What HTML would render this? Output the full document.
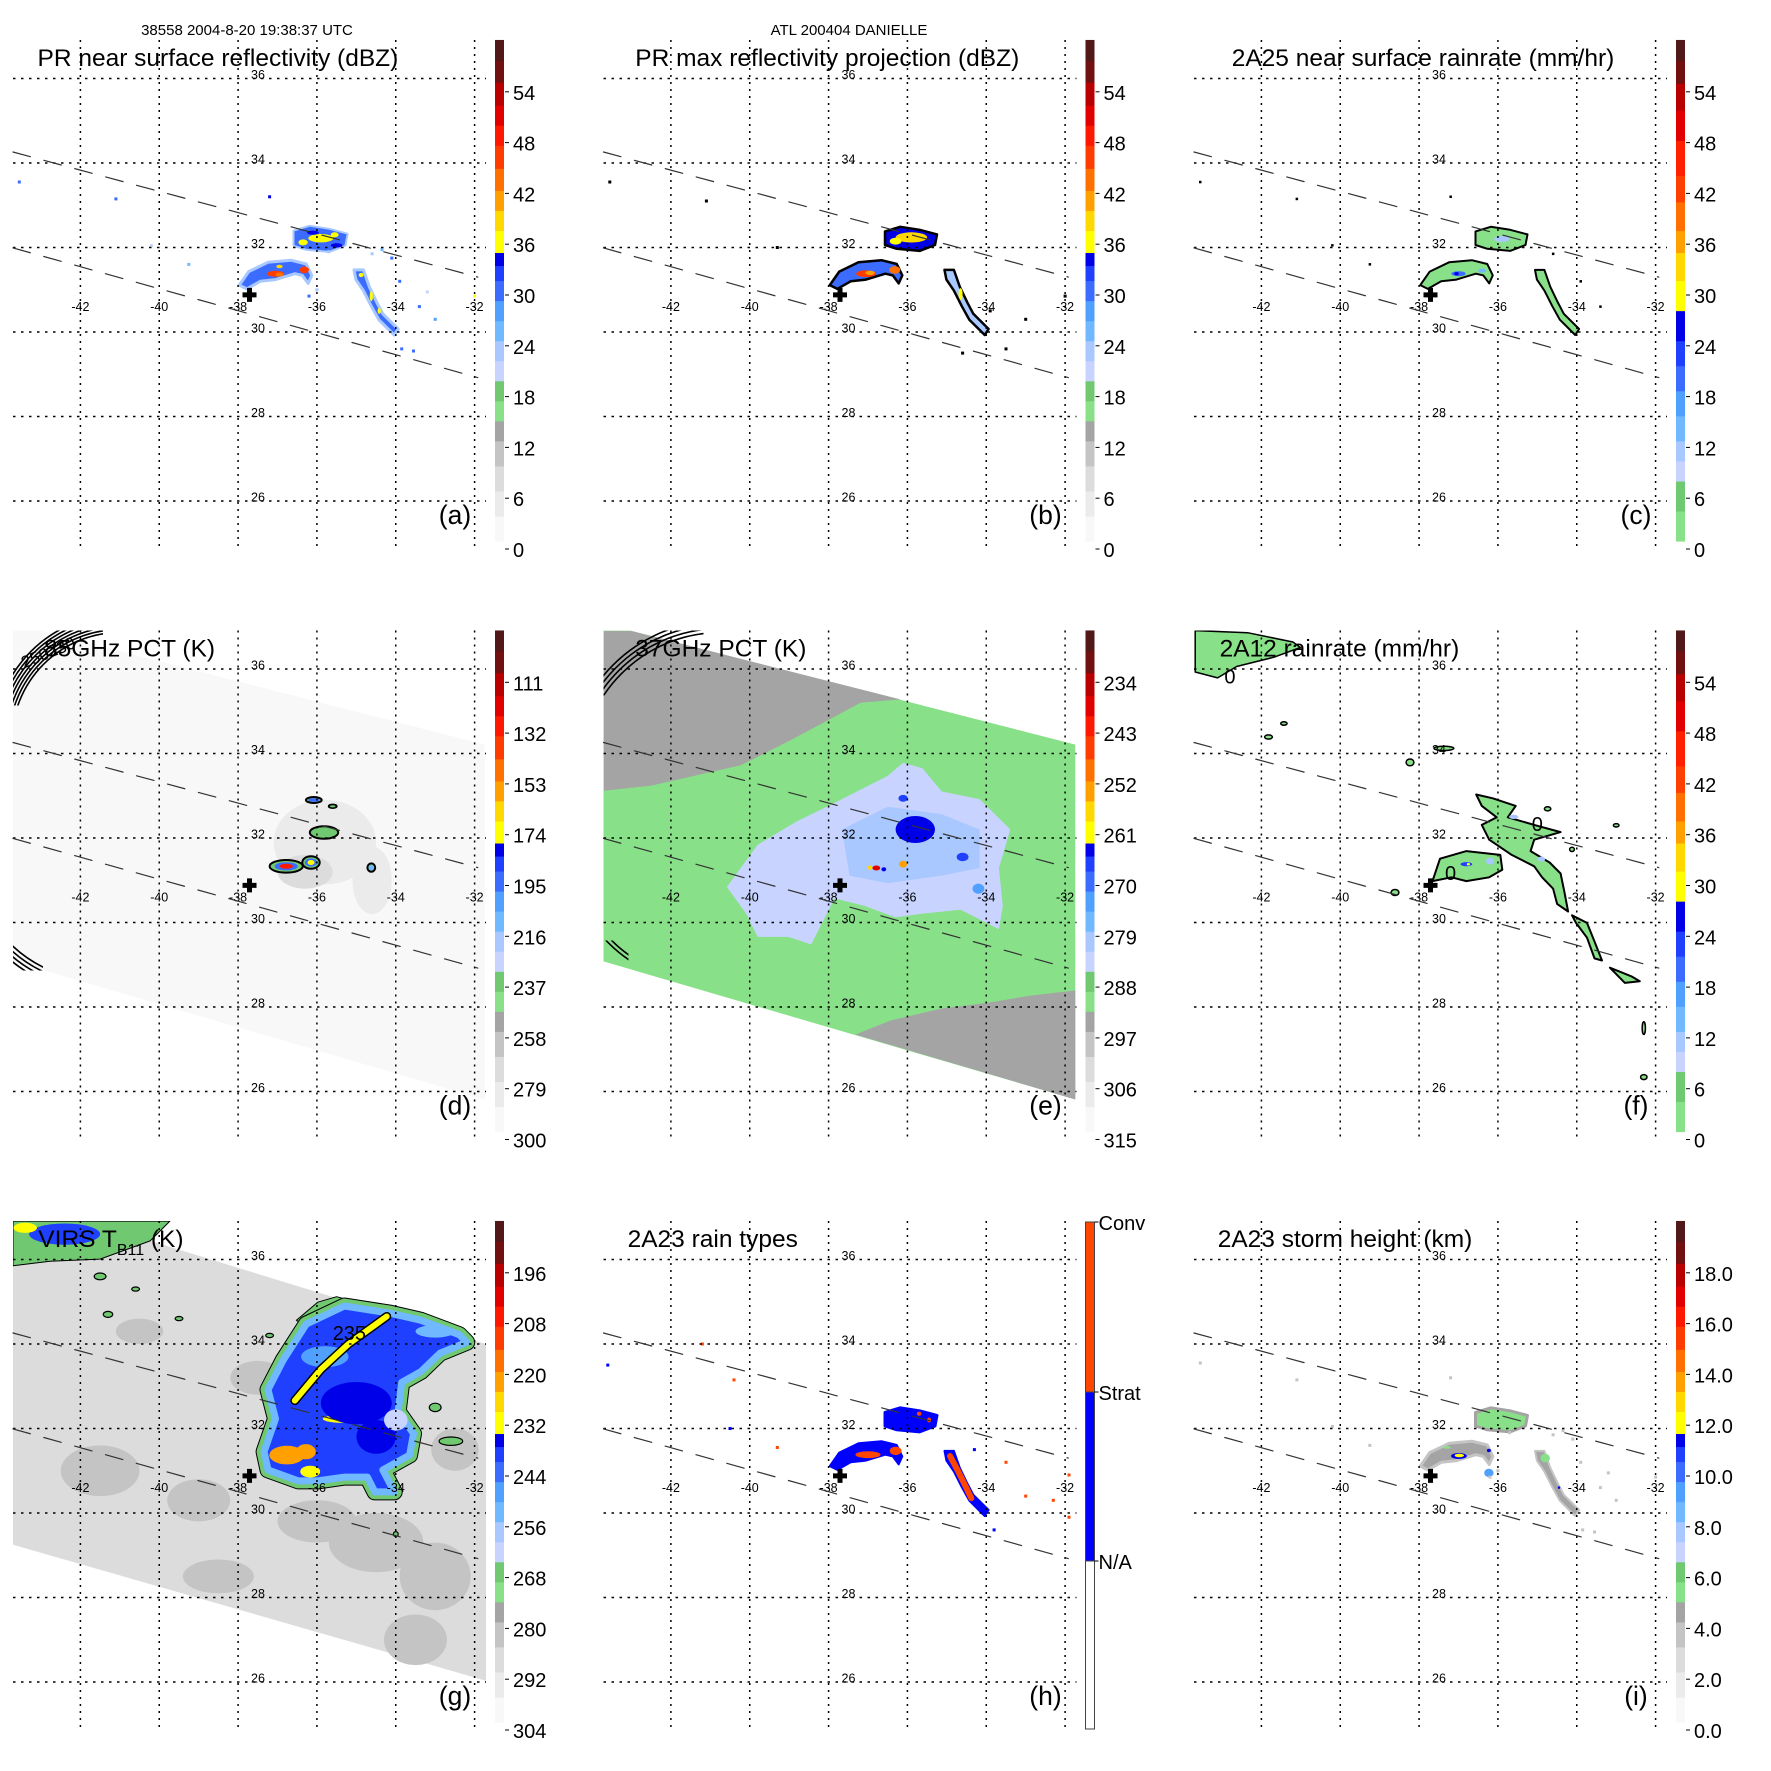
<!DOCTYPE html>
<html><head><meta charset="utf-8">
<style>
html,body{margin:0;padding:0;background:#fff}
svg{display:block}
text{font-family:"Liberation Sans",Arial,sans-serif;fill:#000}
</style></head>
<body>
<svg id="fig" width="1771" height="1771" viewBox="0 0 1771 1771" xmlns="http://www.w3.org/2000/svg">
<rect width="1771" height="1771" fill="#fff"/>
<text x="247" y="35" font-size="15" text-anchor="middle">38558 2004-8-20 19:38:37 UTC</text>
<text x="849" y="35" font-size="15" text-anchor="middle">ATL 200404 DANIELLE</text>
</svg>
<script>
// ---------- data ----------
const lonTicks=[-42,-40,-38,-36,-34,-32];
const latTicks=[36,34,32,30,28,26];
const centerMark=[-37.71,30.88];
const swathUpper=[[-43.71,34.26],[-31.92,31.30]];
const swathLower=[[-43.71,31.99],[-31.92,28.92]];

const labelsDbz=['0','6','12','18','24','30','36','42','48','54'];
const labelsPct85=['300','279','258','237','216','195','174','153','132','111'];
const labelsPct37=['315','306','297','288','279','270','261','252','243','234'];
const labelsVirs=['304','292','280','268','256','244','232','220','208','196'];
const labelsHeight=['0.0','2.0','4.0','6.0','8.0','10.0','12.0','14.0','16.0','18.0'];
const labelsRainType=['N/A','Strat','Conv'];

// PR footprint (lon,lat)
const stormNorth=[[-36.57,32.38],[-36.18,32.49],[-35.69,32.42],[-35.25,32.31],[-35.30,32.06],[-35.69,31.92],[-36.27,31.97],[-36.57,32.06]];
const stormWest=[[-37.97,31.11],[-37.73,31.43],[-37.24,31.65],[-36.66,31.70],[-36.27,31.61],[-36.13,31.34],[-36.22,31.15],[-36.37,31.34],[-36.56,31.38],[-37.05,31.24],[-37.44,31.20],[-37.78,31.02]];
const stormEast=[[-35.06,31.47],[-34.82,31.47],[-34.67,31.07],[-34.48,30.70],[-34.33,30.43],[-33.94,30.07],[-34.04,29.93],[-34.43,30.29],[-34.62,30.61],[-34.82,30.98],[-35.01,31.24]];

// (a) reflectivity cells [lon,lat,dBZ,rlon,rlat]
const aCells=[[-35.9,32.22,37,0.32,0.1],[-36.35,32.12,37,0.12,0.07],[-35.55,32.3,37,0.1,0.06],[-37.05,31.38,47,0.22,0.07],[-36.95,31.36,42,0.1,0.05],[-36.32,31.47,45,0.12,0.08],[-36.95,31.55,38,0.08,0.04],[-34.62,30.85,37,0.04,0.12],[-34.42,30.5,37,0.04,0.07],[-34.88,31.35,36,0.06,0.05],[-36.1,32.35,33,0.15,0.05],[-35.5,32.05,33,0.15,0.05]];
const aSpecks=[[-43.55,33.55,30],[-40.2,32.05,20],[-41.1,33.15,30],[-39.25,31.6,26],[-37.2,33.2,33],[-34.6,31.85,22],[-33.9,31.2,30],[-33.4,30.6,30],[-33.0,30.3,27],[-33.85,29.6,30],[-33.55,29.55,30],[-32.0,30.85,37],[-36.2,30.85,30],[-36.0,31.0,22],[-34.35,31.95,26],[-34.1,31.75,30],[-33.2,30.95,20],[-35.7,31.9,22]];
// (b) max reflectivity cells
const bCells=[[-35.9,32.24,38,0.4,0.12],[-36.3,32.15,37,0.15,0.08],[-37.05,31.38,46,0.25,0.08],[-36.95,31.4,41,0.12,0.05],[-36.32,31.47,44,0.14,0.09],[-34.65,30.9,36,0.05,0.14]];
const bSpecks=[[-43.55,33.55],[-39.3,32.0],[-41.1,33.1],[-33.9,30.5],[-33.5,29.6],[-32.0,30.85],[-33.0,30.3],[-34.6,29.5]];
// (c) rain rate cells
const cCells=[[-37.0,31.38,20,0.18,0.06],[-37.05,31.38,26,0.06,0.04],[-36.4,31.45,12,0.1,0.05],[-35.9,32.2,10,0.2,0.07]];
// (d) 85GHz blobs [lon,lat,rlon,rlat,outer,inner,core]
const dBlobs=[[-36.78,31.33,0.42,0.15,240,195,130],[-36.15,31.42,0.22,0.15,240,195,170],[-35.82,32.13,0.36,0.15,240,240,240],[-36.08,32.9,0.2,0.07,240,195,195],[-35.6,32.75,0.1,0.04,240,240,240],[-34.62,31.3,0.1,0.1,240,215,215]];
const dShade=[[-35.8,31.9,280,1.3,1.0],[-34.6,31.0,282,0.5,0.8],[-36.3,31.2,278,0.7,0.4]];
// (e) 37GHz
const eGrayNW=[[-43.7,36.9],[-43.0,36.9],[-36.18,35.28],[-37.19,35.2],[-38.97,34.31],[-40.23,33.72],[-42.5,33.24],[-43.7,33.12]];
const eGraySE=[[-37.32,27.35],[-36.43,27.68],[-35.16,27.96],[-33.89,28.11],[-32.88,28.27],[-31.74,28.39],[-31.74,25.81]];
const eLight=[[-40.58,30.84],[-39.80,31.84],[-38.83,32.38],[-37.85,32.83],[-36.50,33.47],[-36.11,33.78],[-35.62,33.65],[-35.13,33.10],[-34.17,32.92],[-33.39,32.20],[-33.68,31.29],[-33.58,30.39],[-33.68,29.84],[-34.65,30.30],[-35.62,30.21],[-36.30,30.12],[-37.08,30.39],[-37.85,30.57],[-38.44,29.48],[-39.02,29.66],[-39.80,29.66],[-40.09,30.21]];
const eMid=[[-37.66,32.20],[-36.50,32.74],[-35.13,32.56],[-34.17,32.20],[-34.17,31.29],[-35.13,31.11],[-36.50,30.93],[-37.47,31.11]];
const eCells=[[-35.8,32.2,265,0.5,0.32],[-36.11,32.94,266,0.12,0.08],[-36.79,31.29,240,0.1,0.06],[-36.95,31.3,258,0.06,0.05],[-36.6,31.26,265,0.06,0.05],[-36.11,31.38,253,0.1,0.08],[-34.6,31.55,268,0.15,0.1],[-34.2,30.8,272,0.15,0.12]];
// (f) 2A12 polygons
const fNE=[[-36.55,33.03],[-36.13,32.94],[-35.55,32.76],[-35.75,32.49],[-35.08,32.31],[-34.41,32.14],[-35.08,31.96],[-35.17,31.69],[-34.69,31.42],[-34.41,31.16],[-34.31,30.71],[-34.22,30.26],[-34.50,30.44],[-34.60,30.80],[-34.88,31.07],[-35.08,31.33],[-35.65,31.60],[-36.22,31.96],[-36.41,32.31],[-36.03,32.49],[-36.41,32.76]];
const fW=[[-37.66,30.98],[-37.47,31.51],[-36.80,31.69],[-35.94,31.60],[-35.89,31.25],[-36.22,31.07],[-36.80,30.98],[-37.18,31.07]];
const fSE=[[-34.12,30.17],[-33.74,29.99],[-33.55,29.55],[-33.36,29.10],[-33.55,29.15],[-33.74,29.64],[-34.02,29.99]];
const fS2=[[-33.16,28.93],[-32.60,28.72],[-32.40,28.61],[-32.78,28.57]];
const fNW=[[-43.68,36.91],[-42.35,36.86],[-41.20,36.64],[-41.01,36.51],[-41.68,36.28],[-42.63,36.06],[-43.11,35.79],[-43.68,35.93]];
const fSmall=[[-41.82,34.39,0.1,0.05],[-41.43,34.71,0.08,0.04],[-37.37,34.12,0.25,0.05],[-38.23,33.79,0.1,0.08],[-38.61,30.71,0.1,0.07],[-34.74,32.69,0.08,0.05],[-34.12,31.73,0.06,0.05],[-32.30,27.50,0.04,0.15],[-32.30,26.34,0.08,0.06],[-33.0,32.3,0.07,0.04]];
const fCells=[[-36.8,31.38,22,0.15,0.05],[-36.75,31.38,28.5,0.04,0.03],[-36.2,31.45,10,0.1,0.08],[-35.6,32.5,10,0.12,0.05],[-34.9,31.5,10,0.1,0.06]];
// (g) VIRS
const gSwath=[[-43.71,36.91],[-41.86,36.91],[-31.71,34.0],[-31.71,26.03],[-43.71,29.25]];
const gPatches=[[-41.5,31.0,284,1.0,0.6],[-39.0,30.3,285,0.8,0.5],[-34.5,29.3,283,1.2,0.7],[-33.0,28.5,284,0.9,0.8],[-36.0,29.8,286,1.0,0.5],[-40.5,34.3,286,0.6,0.3],[-37.5,33.2,285,0.7,0.4],[-33.5,27.0,285,0.8,0.6],[-32.5,31.5,284,0.6,0.5],[-38.5,28.5,286,0.9,0.4]];
const gStorm=[[-37.34,31.45],[-37.05,32.23],[-37.24,32.92],[-36.86,33.61],[-36.27,34.47],[-35.30,34.90],[-34.14,34.73],[-33.36,34.56],[-32.39,34.22],[-32.20,34.04],[-32.88,33.78],[-33.36,33.35],[-33.85,33.09],[-33.94,32.40],[-33.55,31.88],[-33.65,31.37],[-34.33,31.02],[-34.04,30.50],[-34.53,30.50],[-34.72,30.85],[-35.30,30.85],[-35.98,30.76],[-36.47,30.76],[-37.24,31.02]];
const gGreenTop=[[-36.52,34.56],[-35.98,34.99],[-35.50,35.12],[-34.33,34.82],[-35.30,34.56],[-36.08,34.30]];
const gTopLeft=[[-43.71,36.91],[-39.73,36.91],[-40.23,36.44],[-41.50,36.01],[-42.77,35.96],[-43.71,35.85]];
const gCells=[[-36.76,31.37,222,0.45,0.22],[-36.28,31.45,224,0.25,0.18],[-36.17,30.98,230,0.25,0.14],[-35.30,32.23,230,0.55,0.1],[-35.0,32.6,236,0.9,0.5],[-34.5,31.8,236,0.5,0.4],[-35.8,33.7,250,0.6,0.25],[-33.0,34.3,252,0.5,0.15],[-34.0,32.2,262,0.3,0.25]];
const gStreak=[[-36.56,32.66],[-35.9,33.4],[-35.2,34.0],[-34.23,34.65]];
const gSmall=[[-41.5,35.6,0.15,0.08],[-40.6,35.3,0.1,0.05],[-39.5,34.6,0.1,0.05],[-41.3,34.7,0.12,0.07],[-37.2,34.2,0.1,0.05],[-33.0,32.5,0.15,0.1],[-32.6,31.7,0.3,0.1],[-34.0,29.5,0.06,0.06]];
// (h) rain type cores
const hCores=[[-37.0,31.38,0.32,0.08],[-36.3,31.47,0.15,0.1],[-35.7,32.35,0.06,0.05],[-35.45,32.2,0.05,0.06]];
const hEastCore=[[-34.92,31.35],[-34.72,31.0],[-34.52,30.62],[-34.38,30.35]];
const hSpecks=[[-39.3,31.55,1],[-40.4,33.15,1],[-41.2,34.0,1],[-43.6,33.5,0],[-40.5,32.0,0],[-33.5,31.2,1],[-33.0,30.4,1],[-32.3,30.3,1],[-31.9,30.9,1],[-31.9,29.9,1],[-34.3,31.5,0],[-33.8,29.6,0]];
// (i) storm height
const iCells=[[-36.99,31.35,11.2,0.2,0.07],[-36.98,31.36,12.3,0.12,0.04],[-36.23,30.95,9,0.12,0.1],[-36.23,31.48,11,0.05,0.04],[-34.45,30.6,11,0.03,0.03],[-34.8,31.3,5.5,0.12,0.1],[-37.3,31.55,5.5,0.1,0.03]];

// ---------- palettes (styling: [from,to,color] as bar fractions) ----------
const palMain=[[0,.05,'#f8f8f8'],[.05,.1,'#ebebeb'],[.1,.15,'#dcdcdc'],[.15,.2,'#c4c4c4'],[.2,.24,'#a4a4a4'],[.24,.28,'#88e088'],[.28,.32,'#70c870'],[.32,.36,'#c8d4ff'],[.36,.4,'#a8c8ff'],[.4,.44,'#70b8ff'],[.44,.48,'#50a0ff'],[.48,.52,'#3c6cff'],[.52,.55,'#2040ff'],[.55,.576,'#0000e8'],[.576,.62,'#ffff00'],[.62,.66,'#ffd800'],[.66,.7,'#ffa000'],[.7,.744,'#ff7000'],[.744,.79,'#ff3c00'],[.79,.83,'#ff1800'],[.83,.87,'#e00000'],[.87,.916,'#b80000'],[.916,.96,'#701010'],[.96,1.0001,'#501818']];
const palRain=[[0,.06,'#88e088'],[.06,.12,'#70c870'],[.12,.16,'#c8d4ff'],[.16,.2,'#a8c8ff'],[.2,.25,'#70b8ff'],[.25,.3,'#50a0ff'],[.3,.35,'#3c6cff'],[.35,.4,'#2040ff'],[.4,.46,'#0000e8'],[.46,.52,'#ffff00'],[.52,.576,'#ffd800'],[.576,.62,'#ffa000'],[.62,.677,'#ff7000'],[.677,.73,'#ff4000'],[.73,.8,'#ff2000'],[.8,.86,'#e00000'],[.86,.914,'#b80000'],[.914,.96,'#701010'],[.96,1.0001,'#501818']];

const NS='http://www.w3.org/2000/svg';
const svg=document.getElementById('fig');
function mk(tag,attrs,parent){const e=document.createElementNS(NS,tag);for(const k in attrs)e.setAttribute(k,attrs[k]);parent.appendChild(e);return e;}
function X(lon){return 80.4+(lon+42)*39.42;}
function Y(lat){return 78.5+(36-lat)*42.25;}
function P(arr){return arr.map(p=>X(p[0]).toFixed(1)+','+Y(p[1]).toFixed(1)).join(' ');}
function col(p,v){let f=(v-p.lo)/(p.hi-p.lo);f=Math.max(0,Math.min(0.9999,f));for(const s of p.pal){if(f>=s[0]&&f<s[1])return s[2];}return p.pal[p.pal.length-1][2];}

function poly(par,arr,fill,stroke,sw,name){
  const e=mk('polygon',{points:P(arr),fill:fill,stroke:stroke||'none','stroke-width':sw||0,'stroke-linejoin':'round'},par);
  
  
  return e;
}
function ell(par,lon,lat,rl,rt,fill,name,stroke,sw){
  const e=mk('ellipse',{cx:X(lon).toFixed(1),cy:Y(lat).toFixed(1),rx:(rl*39.42).toFixed(1),ry:(rt*42.25).toFixed(1),fill:fill,stroke:stroke||'none','stroke-width':sw||0},par);
  
  
  return e;
}
function line(par,arr,stroke,sw,name,dash){
  const e=mk('polyline',{points:P(arr),fill:'none',stroke:stroke,'stroke-width':sw,'stroke-linecap':'round','stroke-linejoin':'round'},par);
  if(dash)e.setAttribute('stroke-dasharray',dash);
  
  
  return e;
}
function speck(par,lon,lat,fill,name,s){
  s=s||3;
  const e=mk('rect',{x:(X(lon)-s/2).toFixed(1),y:(Y(lat)-s/2).toFixed(1),width:s,height:s,fill:fill},par);
  
  
}
function arcs(par,cx,cy,r0,r1,step,cx0,cy0,cw,ch,id,name){
  const cp=mk('clipPath',{id:id},par);
  mk('rect',{x:cx0,y:cy0,width:cw,height:ch},cp);
  const g=mk('g',{'clip-path':'url(#'+id+')'},par);
  
  
  for(let r=r0;r<=r1;r+=step){mk('circle',{cx:cx,cy:cy,r:r,fill:'none',stroke:'#000','stroke-width':1.6},g);}
}

const panels=[
 {id:'a',c:0,r:0,title:'PR near surface reflectivity (dBZ)',tx:37.5,pal:palMain,lo:0,hi:60,labels:labelsDbz},
 {id:'b',c:1,r:0,title:'PR max reflectivity projection (dBZ)',tx:44.8,pal:palMain,lo:0,hi:60,labels:labelsDbz},
 {id:'c',c:2,r:0,title:'2A25 near surface rainrate (mm/hr)',tx:50.7,pal:palRain,lo:0,hi:60,labels:labelsDbz},
 {id:'d',c:0,r:1,title:'85GHz PCT (K)',tx:44,pal:palMain,lo:300,hi:90,labels:labelsPct85},
 {id:'e',c:1,r:1,title:'37GHz PCT (K)',tx:44.8,pal:palMain,lo:315,hi:225,labels:labelsPct37},
 {id:'f',c:2,r:1,title:'2A12 rainrate (mm/hr)',tx:38.6,pal:palRain,lo:0,hi:60,labels:labelsDbz},
 {id:'g',c:0,r:2,title:'VIRS T',tx:38.3,pal:palMain,lo:304,hi:184,labels:labelsVirs},
 {id:'h',c:1,r:2,title:'2A23 rain types',tx:37.1,pal:null,labels:labelsRainType},
 {id:'i',c:2,r:2,title:'2A23 storm height (km)',tx:36.7,pal:palMain,lo:0,hi:20,labels:labelsHeight}
];

const tmiSwath=[[-43.71,36.91],[-43.03,36.91],[-31.74,34.21],[-31.74,25.81],[-43.71,29.08]];

function content(p,pc){
  const id=p.id;
  if(id==='a'){
    poly(pc,stormNorth,col(p,22),col(p,22),4,'north-rainband');
    poly(pc,stormNorth,col(p,30),'none',0,'north-rainband-core');
    poly(pc,stormWest,col(p,30),col(p,22),3,'west-rainband');
    poly(pc,stormEast,col(p,31),col(p,22),3,'east-rainband');
    aSpecks.forEach(s=>speck(pc,s[0],s[1],col(p,s[2]),'reflectivity-speck'));
    aCells.forEach(c=>ell(pc,c[0],c[1],c[3],c[4],col(p,c[2]),'reflectivity-cell'));
  }
  if(id==='b'){
    poly(pc,stormNorth,col(p,33),'#000',2.5,'north-rainband');
    poly(pc,stormWest,col(p,30),'#000',2.5,'west-rainband');
    poly(pc,stormEast,col(p,22),'#000',2.5,'east-rainband');
    bSpecks.forEach(s=>speck(pc,s[0],s[1],'#000','max-reflectivity-speck',3));
    bCells.forEach(c=>ell(pc,c[0],c[1],c[3],c[4],col(p,c[2]),'max-reflectivity-cell'));
  }
  if(id==='c'){
    poly(pc,stormNorth,col(p,1),'#000',2,'north-rainband');
    poly(pc,stormWest,col(p,1),'#000',2,'west-rainband');
    poly(pc,stormEast,col(p,1),'#000',2,'east-rainband');
    aSpecks.slice(0,8).forEach(s=>speck(pc,s[0],s[1],'#000','rainrate-speck',2.5));
    cCells.forEach(c=>ell(pc,c[0],c[1],c[3],c[4],col(p,c[2]),'rainrate-cell'));
  }
  if(id==='d'){
    poly(pc,tmiSwath,col(p,296),'none',0,'tmi-swath');
    dShade.forEach(c=>ell(pc,c[0],c[1],c[3],c[4],col(p,c[2]),'cold-pct-shading'));
    dBlobs.forEach(b=>{
      ell(pc,b[0],b[1],b[2],b[3],col(p,b[4]),'pct-contour','#000',2);
      ell(pc,b[0],b[1],b[2]*0.7,b[3]*0.65,col(p,b[5]),'pct-inner');
      ell(pc,b[0],b[1],b[2]*0.4,b[3]*0.4,col(p,b[6]),'pct-core');
    });
    arcs(pc,120,150,108,126,3,13,40,90,75,'arcd1','limb-contours');
    arcs(pc,100,262,128,140,4,13,345,30,35,'arcd2','limb-contours-lower');
    const t=mk('text',{x:24,y:78,'font-size':17,transform:'rotate(-22 24 78)'},pc);
    t.textContent='250230';
    
    
  }
  if(id==='e'){
    poly(pc,tmiSwath,col(p,291),'none',0,'tmi-swath');
    poly(pc,eGrayNW,col(p,294),'none',0,'warm-region-northwest');
    poly(pc,eGraySE,col(p,294),'none',0,'warm-region-southeast');
    poly(pc,eLight,col(p,285),'none',0,'scattering-region');
    poly(pc,eMid,col(p,281),'none',0,'scattering-core');
    eCells.forEach(c=>ell(pc,c[0],c[1],c[3],c[4],col(p,c[2]),'pct-cell'));
    arcs(pc,130,182,140,152,4,13,40,100,65,'arce1','limb-contours');
    arcs(pc,110,262,125,129,4,13,350,25,30,'arce2','limb-contours-lower');
  }
  if(id==='f'){
    poly(pc,fNW,col(p,1),'#000',1.5,'northwest-rain');
    [fNE,fW,fSE,fS2].forEach(a=>poly(pc,a,col(p,1),'#000',2,'rain-area'));
    fSmall.forEach(c=>ell(pc,c[0],c[1],c[2],c[3],col(p,1),'rain-cell','#000',1.5));
    fCells.forEach(c=>ell(pc,c[0],c[1],c[3],c[4],col(p,c[2]),'rainrate-cell'));
    [[-42.8,35.85],[-37.2,31.2],[-35.0,32.35]].forEach(q=>{
      const t=mk('text',{x:X(q[0]).toFixed(1),y:(Y(q[1])+8).toFixed(1),'font-size':20,'text-anchor':'middle'},pc);
      t.textContent='0';
      
      
    });
  }
  if(id==='g'){
    poly(pc,gSwath,col(p,290),'none',0,'virs-swath');
    gPatches.forEach(c=>ell(pc,c[0],c[1],c[3],c[4],col(p,c[2]),'cloud-patch'));
    poly(pc,gTopLeft,col(p,270),'#000',1,'cold-cloud-northwest');
    ell(pc,-42.4,36.6,0.9,0.25,col(p,240),'cold-cloud-northwest-core');
    ell(pc,-43.4,36.75,0.3,0.12,col(p,230),'cold-cloud-northwest-peak');
    gSmall.forEach(c=>ell(pc,c[0],c[1],c[2],c[3],col(p,270),'cloud-cell','#000',1.2));
    poly(pc,gGreenTop,col(p,270),'#000',1,'anvil-edge');
    poly(pc,gStorm,'none','#000',17,'storm-outline');
    poly(pc,gStorm,'none',col(p,270),15,'storm-rim');
    poly(pc,gStorm,col(p,240),col(p,254),7,'storm-cloud');
    gCells.forEach(c=>ell(pc,c[0],c[1],c[3],c[4],col(p,c[2]),'cloud-top-cell'));
    line(pc,gStreak,'#000',9,'cirrus-streak-outline');
    line(pc,gStreak,col(p,230),6,'cirrus-streak');
    const t=mk('text',{x:X(-35.6).toFixed(1),y:Y(34.1).toFixed(1),'font-size':20},pc);
    t.textContent='235';
    
    
  }
  if(id==='h'){
    poly(pc,stormNorth,'#0000ff','#0000ff',3,'north-stratiform');
    poly(pc,stormWest,'#0000ff','#0000ff',2,'west-stratiform');
    poly(pc,stormEast,'#0000ff','#0000ff',2,'east-stratiform');
    hCores.forEach(c=>ell(pc,c[0],c[1],c[2],c[3],'#ff4500','convective-core'));
    line(pc,hEastCore,'#ff4500',6,'east-convective-line');
    hSpecks.forEach(s=>speck(pc,s[0],s[1],s[2]?'#ff4500':'#0000ff','rain-type-speck'));
  }
  if(id==='i'){
    poly(pc,stormNorth,col(p,5.5),col(p,4),3,'north-storm-height');
    poly(pc,stormWest,col(p,4),col(p,3),3,'west-storm-height');
    poly(pc,stormEast,col(p,4),col(p,3),2,'east-storm-height');
    iCells.forEach(c=>ell(pc,c[0],c[1],c[3],c[4],col(p,c[2]),'storm-height-cell'));
    aSpecks.forEach(s=>speck(pc,s[0],s[1],col(p,3),'storm-height-speck'));
  }
}

panels.forEach(p=>{
  const g=mk('g',{transform:'translate('+(p.c*590.5).toFixed(1)+','+(p.r*590.5).toFixed(1)+')'},svg);
  
  
  const cp=mk('clipPath',{id:'clip'+p.id},g);
  mk('rect',{x:13,y:40,width:473,height:509},cp);
  const pc=mk('g',{'clip-path':'url(#clip'+p.id+')'},g);
  
  
  content(p,pc);
  lonTicks.forEach(lon=>{
    const l=mk('line',{x1:X(lon),x2:X(lon),y1:40,y2:549,stroke:'#000','stroke-width':1.5,'stroke-dasharray':'2,5'},g);
    
    
    const t=mk('text',{x:X(lon),y:311,'font-size':12.5,'text-anchor':'middle'},g);
    t.textContent=String(lon);
    
    
  });
  latTicks.forEach(lat=>{
    const l=mk('line',{x1:13,x2:486,y1:Y(lat),y2:Y(lat),stroke:'#000','stroke-width':1.5,'stroke-dasharray':'2.5,5.5'},g);
    
    
    const t=mk('text',{x:258,y:Y(lat)+0.5,'font-size':12.5,'text-anchor':'middle'},g);
    t.textContent=String(lat);
    
    
  });
  line(g,swathUpper,'#333',1.2,'pr-swath-edge-upper','18,14');
  line(g,swathLower,'#333',1.2,'pr-swath-edge-lower','18,14');
  const cx=X(centerMark[0]),cy=Y(centerMark[1]);
  const cr=mk('path',{d:'M'+(cx-7)+' '+(cy-2.5)+'h14v5h-14zM'+(cx-2.5)+' '+(cy-7)+'h5v14h-5z',fill:'#000'},g);
  
  
  const tt=mk('text',{x:p.tx,y:66,'font-size':24.5},g);
  
  
  if(p.id==='g'){
    tt.textContent='VIRS T';
    const sub=mk('tspan',{'font-size':16,dy:8},tt);
    sub.textContent='B11';
    const rest=mk('tspan',{dy:-8},tt);
    rest.textContent='  (K)';
  } else tt.textContent=p.title;
  const lt=mk('text',{x:455,y:524,'font-size':26.5,'text-anchor':'middle'},g);
  lt.textContent='('+p.id+')';
  
  
  const cb=mk('g',{},g);
  
  
  if(p.pal){
    p.pal.forEach(s=>{
      const top=541-s[1]*501, h=(s[1]-s[0])*501+0.6;
      const r=mk('rect',{x:495,y:top.toFixed(2),width:9,height:h.toFixed(2),fill:s[2]},cb);
      
      
    });
    p.labels.forEach((lab,k)=>{
      const y=550-k*50.8;
      mk('line',{x1:505,x2:509,y1:y-1,y2:y-1,stroke:'#000','stroke-width':1},cb);
      const t=mk('text',{x:513,y:y+7,'font-size':20},cb);
      t.textContent=lab;
      
      
    });
  } else {
    const segs=[[41,211,'#ff4500'],[211,380,'#0000ff'],[380,548,'#ffffff']];
    segs.forEach(s=>{
      const r=mk('rect',{x:495,y:s[0],width:9,height:s[1]-s[0],fill:s[2],stroke:'#444','stroke-width':1},cb);
      
      
    });
    const ys=[380,211,41];
    p.labels.forEach((lab,k)=>{
      mk('line',{x1:504,x2:508,y1:ys[k],y2:ys[k],stroke:'#000','stroke-width':1},cb);
      const t=mk('text',{x:508,y:ys[k]+8,'font-size':20},cb);
      t.textContent=lab;
      
      
    });
  }
});
</script>
</body></html>
